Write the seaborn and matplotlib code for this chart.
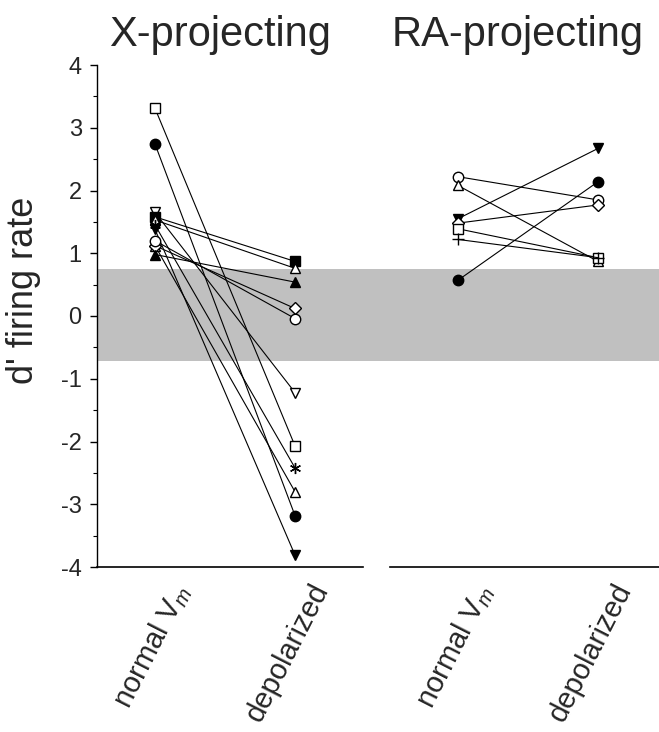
import numpy as np
import pandas as pd
import matplotlib
matplotlib.use("Agg")
import matplotlib.pyplot as plt
from matplotlib.ticker import MultipleLocator
from matplotlib.transforms import ScaledTranslation, blended_transform_factory
import seaborn as sns

sns.set_theme(style="white")
plt.rcParams['font.family'] = ['Liberation Sans', 'DejaVu Sans']
plt.rcParams['mathtext.fontset'] = 'custom'
plt.rcParams['mathtext.rm'] = 'Liberation Sans'
plt.rcParams['mathtext.it'] = 'Liberation Sans:italic'

# ---- data ----
conditions = ["normal V$_{m}$", "depolarized"]
panel_titles = ["X-projecting", "RA-projecting"]

x_markers = ["s", "o", "v", "s", "^", "v", "*", "^", "D", "o", "^"]
x_filled = [False, True, False, True, False, True, False, False, False, False, True]
x_normal = [3.31, 2.74, 1.65, 1.58, 1.53, 1.38, 1.45, 1.12, 1.12, 1.20, 0.98]
x_depol = [-2.07, -3.18, -1.22, 0.87, 0.76, -3.81, -2.42, -2.80, 0.12, -0.04, 0.54]

ra_markers = ["o", "^", "v", "D", "s", "+", "o"]
ra_filled = [False, False, True, False, False, False, True]
ra_normal = [2.22, 2.08, 1.55, 1.48, 1.39, 1.22, 0.57]
ra_depol = [1.85, 0.87, 2.67, 1.77, 0.93, 0.93, 2.14]

band_low, band_high = -0.72, 0.75
y_ticks = [-4, -3, -2, -1, 0, 1, 2, 3, 4]

W, H = 659, 732
fig = plt.figure(figsize=(W / 100, H / 100), dpi=100)

def fx(px):
    return px / W

def fy(py):
    return 1 - py / H

y_top, y_bot = 65, 567
axL = fig.add_axes([fx(97), fy(y_bot), fx(363 - 97), fy(y_top) - fy(y_bot)])
axR = fig.add_axes([fx(363), fy(y_bot), fx(659 - 363), fy(y_top) - fy(y_bot)])

def draw(ax, markers, filled, normal, depol):
    for m, f, a, b in zip(markers, filled, normal, depol):
        df = pd.DataFrame({"x": [0, 1], "y": [a, b]})
        ms = 8 if m in ("*", "+") else (6.5 if m == "D" else 7.5)
        if m == "*":
            m = (6, 2, 0)
        sns.lineplot(data=df, x="x", y="y", ax=ax, color="black", lw=0.8,
                     marker=m, markersize=ms, markeredgewidth=1.0,
                     markeredgecolor="black",
                     markerfacecolor="black" if f else "white",
                     zorder=3)

draw(axL, x_markers, x_filled, x_normal, x_depol)
draw(axR, ra_markers, ra_filled, ra_normal, ra_depol)

shift = ScaledTranslation(14 / 100, -12 / 100, fig.dpi_scale_trans)
for ax in (axL, axR):
    ax.axhspan(band_low, band_high, color="#c0c0c0", lw=0, zorder=0)
    ax.set_ylim(-4, 4)
    ax.set_xticks([0, 1])
    ax.set_xticklabels([])
    ax.tick_params(axis="x", length=0)
    trans = blended_transform_factory(ax.transData, ax.transAxes) + shift
    for i, lab in enumerate(conditions):
        ax.text(i, 0, lab, transform=trans, rotation=63, ha="right", va="top",
                rotation_mode="anchor", fontsize=21)
    ax.set_xlabel("")
    ax.spines["top"].set_visible(False)
    ax.spines["right"].set_visible(False)
    ax.spines["bottom"].set_linewidth(1.2)
    ax.spines["bottom"].set_color("black")
    ax.patch.set_alpha(0)

axL.set_xlim(-(155 - 97) / 140, (363 - 155) / 140)
axR.set_xlim(-(458 - 363) / 140, (659 - 458) / 140)
axR.spines["bottom"].set_bounds(-(458 - 390) / 140, (659 - 458) / 140)

axL.set_yticks(y_ticks)
axL.set_yticklabels([str(t) for t in y_ticks], fontsize=17)
axL.yaxis.set_minor_locator(MultipleLocator(0.5))
axL.tick_params(axis="y", which="major", direction="out", length=5, width=1,
                color="black", left=True, pad=6)
axL.tick_params(axis="y", which="minor", direction="out", length=3, width=0.8,
                color="black", left=True)
axL.spines["left"].set_color("black")
axL.spines["left"].set_linewidth(1.0)
axL.set_ylabel("d' firing rate", fontsize=26)
axL.yaxis.set_label_coords(-(97 - 41) / 266, (567 - 290) / 502)

axR.spines["left"].set_visible(False)
axR.set_yticks([])
axR.set_ylabel("")

fig.text(fx(220), fy(46), panel_titles[0], fontsize=30, ha="center", va="baseline")
fig.text(fx(518), fy(46), panel_titles[1], fontsize=30, ha="center", va="baseline")

fig.savefig("out.png", dpi=100)
